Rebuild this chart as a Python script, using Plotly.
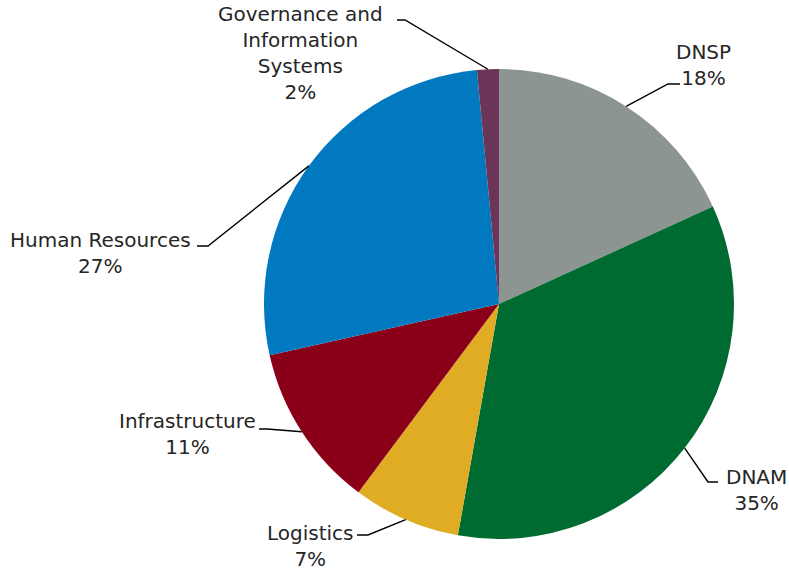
import math
import plotly.graph_objects as go

# Share of total by business unit (%)
units = ["DNSP", "DNAM", "Logistics", "Infrastructure", "Human Resources",
         "Governance and<br>Information<br>Systems"]
shares = [18.2, 34.6, 7.4, 11.3, 27.0, 1.5]
colors = ["#8C9592", "#006B31", "#E0AC24", "#8B0019", "#0079C1", "#6A3558"]

W, H = 789, 572
CX, CY, R = 499, 304, 235  # pie centre and radius in pixels

# Label block centres and leader-line elbows (pixels), one per slice
label_pos = [(703, 65), (756, 490), (310, 546), (187, 434), (100, 253), (300, 53)]
elbows = [((668, 84), (680, 84)), ((708, 482), (718, 482)),
          ((368, 535), (357, 535)), ((267, 429), (259, 429)),
          ((208, 246), (197, 246)), ((405, 20), (397, 20))]


def px(x, y):
    return x / W, 1 - y / H


fig = go.Figure(go.Pie(
    labels=units,
    values=shares,
    sort=False,
    direction="clockwise",
    rotation=0,
    marker=dict(colors=colors, line=dict(width=0)),
    textinfo="none",
    hoverinfo="label+percent",
    showlegend=False,
    domain=dict(x=[(CX - R) / W, (CX + R) / W],
                y=[(H - CY - R) / H, (H - CY + R) / H]),
))

total = sum(shares)
cum = 0.0
shapes, annotations = [], []
for name, val, (lx, ly), ((ex, ey), (tx, ty)) in zip(units, shares, label_pos, elbows):
    mid = (cum + val / 2) / total * 2 * math.pi
    cum += val
    sx, sy = CX + R * math.sin(mid), CY - R * math.cos(mid)
    pts = [px(sx, sy), px(ex, ey), px(tx, ty)]
    path = "M {} {} L {} {} L {} {}".format(*[c for p in pts for c in p])
    shapes.append(dict(type="path", path=path, xref="paper", yref="paper",
                       line=dict(color="#000000", width=1.4)))
    ax, ay = px(lx, ly)
    annotations.append(dict(
        x=ax, y=ay, xref="paper", yref="paper",
        text=f"{name}<br>{round(val / total * 100)}%",
        showarrow=False, align="center", xanchor="center", yanchor="middle",
        font=dict(family="DejaVu Sans", size=20, color="#262626"),
    ))

fig.update_layout(
    width=W, height=H, autosize=False,
    margin=dict(l=0, r=0, t=0, b=0),
    paper_bgcolor="white", plot_bgcolor="white",
    shapes=shapes, annotations=annotations,
)

fig.write_html("out.html")
